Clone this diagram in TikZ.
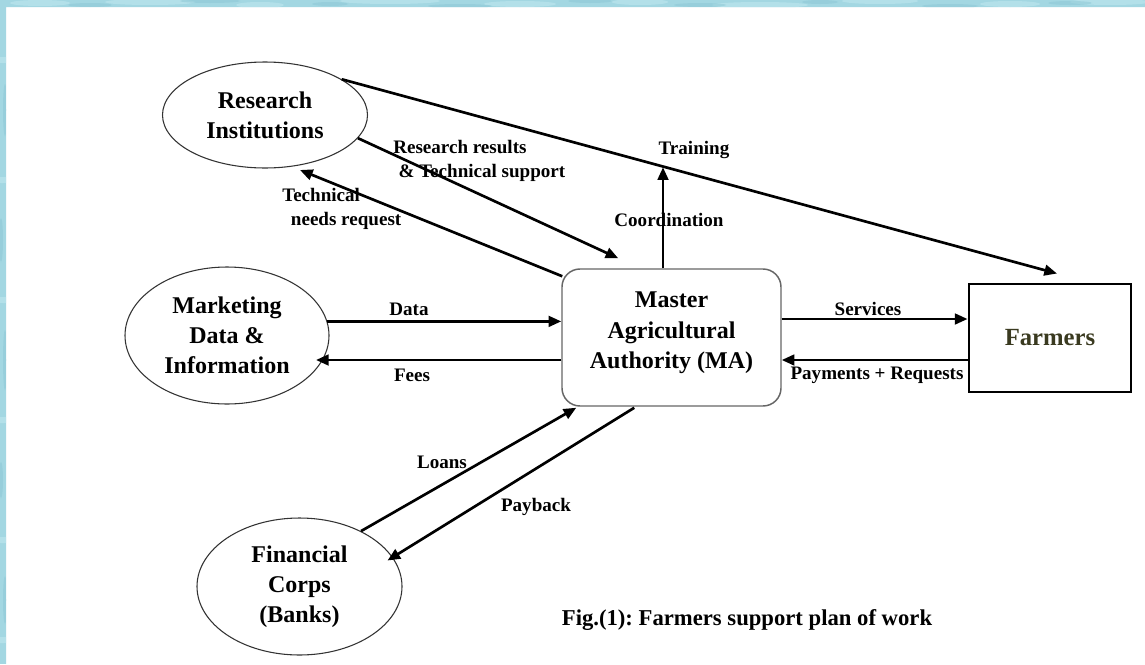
\documentclass[tikz,border=0pt]{standalone}
\usepackage{fontspec}
\setmainfont{Liberation Serif}
\usetikzlibrary{arrows.meta,calc,shapes.geometric}
\definecolor{bandc}{HTML}{A3D7E2}
\definecolor{bandlight}{HTML}{BFE7EF}
\definecolor{banddark}{HTML}{8CC7D5}
\definecolor{farmtext}{HTML}{3A3A20}
\frenchspacing
\begin{document}
\begin{tikzpicture}[x=0.75pt,y=-0.75pt,
  entity/.style={ellipse,draw=black!80,line width=0.8pt,inner sep=0pt,align=center,
    font=\bfseries\fontsize{18}{22.5}\selectfont},
  hub/.style={rectangle,rounded corners=13.5pt,draw=black!60,line width=1.1pt,inner sep=0pt,
    minimum width=164.25pt,minimum height=102.75pt,align=center,
    font=\bfseries\fontsize{18}{23}\selectfont},
  sink/.style={rectangle,draw=black,line width=2.2pt,inner sep=0pt,
    minimum width=121.5pt,minimum height=81pt,text=farmtext,
    font=\bfseries\fontsize{18.5}{22}\selectfont},
  conn/.style={line width=2pt,-{Triangle[length=9.5pt,width=8pt]}},
  lbl/.style={inner sep=0pt,align=left,font=\bfseries\fontsize{14.3}{18}\selectfont},
  caption/.style={inner sep=0pt,font=\bfseries\fontsize{17}{20}\selectfont}]

% page and decorative frame along the top and left edges
\useasboundingbox (0,0) rectangle (1145,664);
\fill[white] (0,0) rectangle (1145,664);
\begin{scope}
  \clip (0,0) rectangle (1145,7) (0,0) rectangle (6,664);
  \fill[bandc] (0,0) rectangle (1145,664);
  \foreach \x/\y/\r in {40/3/30, 150/2/45, 260/5/24, 390/1/50, 520/4/36, 640/2/28,
                        760/5/48, 880/1/38, 1010/4/30, 1110/2/40,
                        3/60/40, 2/180/46, 4/300/30, 2/420/50, 3/540/36, 2/640/30}
    \fill[bandlight,opacity=0.6] (\x,\y) ellipse [x radius=\r, y radius=3];
  \foreach \x/\y/\r in {90/5/22, 210/1/30, 330/4/18, 460/6/32, 590/1/22, 700/5/26,
                        820/2/18, 950/6/28, 1070/3/22}
    \fill[banddark,opacity=0.5] (\x,\y) ellipse [x radius=\r, y radius=2];
  \foreach \x/\y/\r in {5/110/26, 1/240/22, 5/360/30, 1/480/18, 5/600/24}
    \fill[banddark,opacity=0.5] (\x,\y) ellipse [x radius=2, y radius=\r];
\end{scope}

% nodes
\node[entity,minimum width=153.75pt,minimum height=79.5pt] (ri) at (265,115) {Research\\Institutions};
\node[entity,minimum width=153pt,minimum height=102.75pt] (mk) at (227,335.5) {Marketing\\Data \&\\Information};
\node[entity,minimum width=153.75pt,minimum height=102.75pt] (fc) at (299.5,586.5) {Financial\\Corps\\(Banks)};
\node[hub] (ma) at (671.5,337.5) {Master\\Agricultural\\Authority (MA)\\[-12pt]\mbox{}};
\node[sink] (fa) at (1050,338) {Farmers};

% connector end points
\coordinate (ftip) at ($(fa.north)+(7,-9)$);
\coordinate (rrtip) at ($(ma.north west)+(57,-10)$);
\coordinate (tnstart) at ($(ma.north west)+(1,8)$);
\coordinate (tntip) at ($(ri.center)+(35,55)$);
\coordinate (trtip) at ($(ma.north)+(-8.5,-101)$);
\coordinate (fetip) at ($(mk.center)+(89,24.5)$);
\coordinate (sv) at ($(ma.east)+(0,-18.5)$);
\coordinate (pr) at ($(fa.west)+(0,22)$);
\coordinate (lntip) at ($(ma.south west)+(15,1)$);
\coordinate (pbstart) at ($(ma.south west)+(73,1)$);
\coordinate (pbtip) at ($(fc.center)+(88,-26)$);

% connectors
\draw[conn] (ri.25) -- (ftip);
\draw[conn] (ri.-14.5) -- (rrtip);
\draw[conn] (tnstart) -- (tntip);
\draw[conn] (ma.north -| trtip) -- (trtip);
\draw[conn] (mk.8.6) -- (mk.8.6 -| ma.west);
\draw[conn] (ma.west |- fetip) -- (fetip);
\draw[conn] (sv) -- (sv -| fa.west);
\draw[conn] (pr) -- (pr -| ma.east);
\draw[conn] (fc.42.4) -- (lntip);
\draw[conn] (pbstart) -- (pbtip);

% connector labels
\node[lbl,anchor=west] (l-rr) at (393,161) {Research results\\\hspace{4pt}\& Technical support};
\node[lbl,anchor=west] (l-tn) at (282,209) {Technical\\\hspace{6.5pt}needs request};
\node[lbl] (l-tr) at (694,150) {Training};
\node[lbl] (l-co) at (669,220) {Coordination};
\node[lbl] (l-da) at (409,309) {Data};
\node[lbl] (l-fe) at (412,375) {Fees};
\node[lbl] (l-sv) at (868,309) {Services};
\node[lbl] (l-pr) at (877,375) {Payments + Requests};
\node[lbl] (l-ln) at (442,462) {Loans};
\node[lbl] (l-pb) at (536,507) {Payback};

% caption
\node[caption] (cap) at (747,620) {Fig.(1): Farmers support plan of work};
\end{tikzpicture}
\end{document}
